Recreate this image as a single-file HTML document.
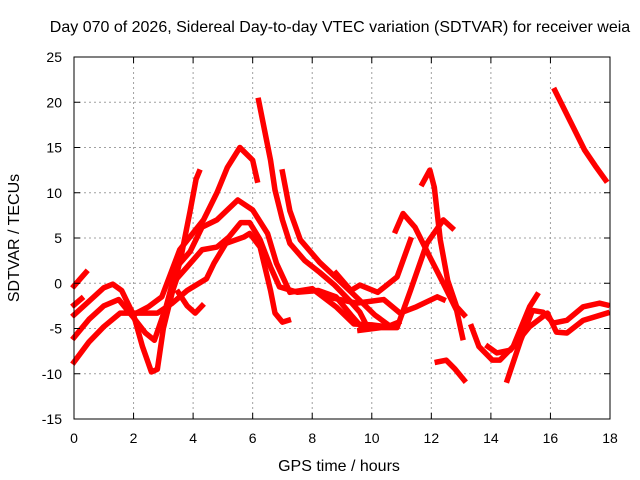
<!DOCTYPE html>
<html><head><meta charset="utf-8"><style>
body{margin:0;background:#fff;}
svg{display:block;font-family:"Liberation Sans",sans-serif;}
</style></head><body>
<svg id="chart" width="640" height="480">
<rect width="640" height="480" fill="#fff"/>
<text x="340" y="32" text-anchor="middle" font-size="16" fill="#000">Day 070 of 2026, Sidereal Day-to-day VTEC variation (SDTVAR) for receiver weia</text>
<g id="grid"></g>
<g id="tracks"></g>
<rect x="74" y="57" width="536" height="362" fill="none" stroke="#000" stroke-width="1"/>
<g id="axes"></g>
<text x="339" y="471" text-anchor="middle" font-size="16">GPS time / hours</text>
<text transform="translate(19,238) rotate(-90)" text-anchor="middle" font-size="16">SDTVAR / TECUs</text>
</svg>
<script>
const xTicks=[0,2,4,6,8,10,12,14,16,18];
const yTicks=[-15,-10,-5,0,5,10,15,20,25];
const tA=[[0,-0.3],[0.4,1.2]];
const tB=[[0,-2.4],[0.25,-1.7]];
const tC=[[0,-3.5],[0.5,-2],[1,-0.5],[1.3,-0.1],[1.6,-0.8],[2,-3.5],[2.3,-7],[2.6,-9.8],[2.8,-9.5],[3,-5],[3.3,-1],[3.6,3],[3.9,8],[4.1,11.5],[4.2,12.3]];
const tD=[[0,-6],[0.5,-4],[1,-2.5],[1.5,-1.8],[2,-3.8],[2.4,-5.5],[2.7,-6.3],[3.1,-2.5],[3.45,1.8],[3.9,3.5],[4.3,6.2],[4.8,7],[5.5,9.2],[6,8.1],[6.5,5.5],[6.8,2.2],[7.25,-1],[8,-0.6],[8.8,-2.6],[9.4,-4.5],[10,-4.6],[10.5,-4.8]];
const tE=[[0,-8.7],[0.5,-6.5],[1,-4.8],[1.55,-3.3],[2.1,-3.3],[2.8,-3.3],[3.3,-2.2],[3.8,-0.8],[4.45,0.5],[4.7,2.2],[5.1,4.4],[5.7,5.1],[5.9,5.5],[6.25,4],[6.6,-0.8],[6.75,-3.3],[7,-4.3],[7.2,-4.1]];
const tF=[[3.2,-1.9],[3.45,0.5],[3.8,1.8],[4.3,3.7],[4.8,4],[5.2,5.1],[5.6,6.7],[5.9,6.7],[6.25,4.8],[6.6,1.8],[6.9,-0.4],[7.5,-1],[8.2,-0.8],[8.8,-1.5],[9.3,-3.5],[9.7,-5]];
const tG=[[3.5,-1],[3.8,-2.5],[4.07,-3.3],[4.3,-2.5]];
const tH=[[2.1,-3.3],[2.5,-2.6],[2.95,-1.5],[3.55,3.7],[4.35,7],[4.8,10],[5.15,12.8],[5.57,15],[6,13.6],[6.15,11.4]];
const tI=[[6.2,20.2],[6.4,16.9],[6.6,13.6],[6.75,10.3],[7,7],[7.25,4.4],[7.75,2.5],[8.25,1.2],[8.75,-0.2],[9.25,-1.9],[9.6,-3.2],[9.8,-4.5]];
const tJ=[[7,12.3],[7.25,8],[7.6,4.8],[8.25,2.3],[8.9,0.3],[9.6,-1.9],[10.1,-3.5],[10.6,-4.7],[10.9,-4.3]];
const tK=[[8.8,1.1],[9.3,-0.8],[9.6,-0.2],[10.2,-1],[10.85,0.7],[11.3,4.8]];
const tL=[[10.8,5.8],[11.05,7.7],[11.45,6.2],[11.95,2.9],[12.4,0],[12.85,-3],[13.05,-6]];
const tM=[[11.7,11],[11.95,12.5],[12.1,10.6],[12.3,4.8],[12.55,0.3],[12.85,-2.6],[13.1,-3.5]];
const tN=[[9.6,-5.2],[10.3,-4.9],[10.85,-4.9],[11.3,-0.8],[11.85,4.4],[12.4,7],[12.7,6.1]];
const tO=[[8.5,-1.5],[9.5,-2.2],[10.4,-1.8],[10.95,-3.3],[11.5,-2.6],[12.2,-1.5],[12.4,-1.8]];
const tP=[[12.2,-8.7],[12.5,-8.5],[12.8,-9.5],[13.1,-10.7]];
const tQ=[[13.35,-4.8],[13.6,-7],[14.05,-8.5],[14.3,-8.5],[14.75,-7],[15.3,-2.6],[15.55,-1.3]];
const tR=[[14.55,-10.7],[15,-6.3],[15.4,-3],[15.75,-3.2],[16.1,-4.4],[16.55,-4.1],[17.1,-2.6],[17.65,-2.2],[17.9,-2.4]];
const tS=[[13.9,-7],[14.2,-7.7],[14.65,-7.4],[15.3,-4.8],[15.9,-3.3],[16.2,-5.4],[16.55,-5.5],[17.1,-4.1],[17.9,-3.3]];
const tT=[[16.15,21.3],[16.65,18],[17.15,14.7],[17.5,13],[17.85,11.4]];
const tracks=[tA,tB,tC,tD,tE,tF,tG,tH,tI,tJ,tK,tL,tM,tN,tO,tP,tQ,tR,tS,tT];
const X0=74,X1=610,Y0=419,Y1=57;
const xs=v=>X0+(v-0)/18*(X1-X0);
const ys=v=>Y0-(v+15)/40*(Y0-Y1);
const NS="http://www.w3.org/2000/svg";
const grid=document.getElementById('grid'),axes=document.getElementById('axes'),tg=document.getElementById('tracks');
function mk(t,a,p){const e=document.createElementNS(NS,t);for(const k in a)e.setAttribute(k,a[k]);p.appendChild(e);return e;}
xTicks.forEach(v=>{const x=xs(v);
 if(v>0&&v<18){const l=mk('line',{x1:x,x2:x,y1:Y0,y2:Y1,stroke:'#a0a0a0','stroke-dasharray':'2,3'},grid);
 
 }
 mk('line',{x1:x,x2:x,y1:Y0,y2:Y0-6,stroke:'#000'},axes);mk('line',{x1:x,x2:x,y1:Y1,y2:Y1+6,stroke:'#000'},axes);
 const t=mk('text',{x:x,y:443,'text-anchor':'middle','font-size':14},axes);t.textContent=v;
 
 });
yTicks.forEach(v=>{const y=ys(v);
 if(v>-15&&v<25){const l=mk('line',{x1:X0,x2:X1,y1:y,y2:y,stroke:'#a0a0a0','stroke-dasharray':'2,3'},grid);
 
 }
 mk('line',{x1:X0,x2:X0+6,y1:y,y2:y,stroke:'#000'},axes);mk('line',{x1:X1,x2:X1-6,y1:y,y2:y,stroke:'#000'},axes);
 const t=mk('text',{x:62,y:y+5,'text-anchor':'end','font-size':14},axes);t.textContent=v;
 
 });
tracks.forEach((tr,i)=>{const p=mk('polyline',{points:tr.map(d=>xs(d[0])+','+ys(d[1])).join(' '),fill:'none',stroke:'#ff0000','stroke-width':5.5,'stroke-linejoin':'round','stroke-linecap':'square'},tg);
 
 });
</script>
</body></html>
